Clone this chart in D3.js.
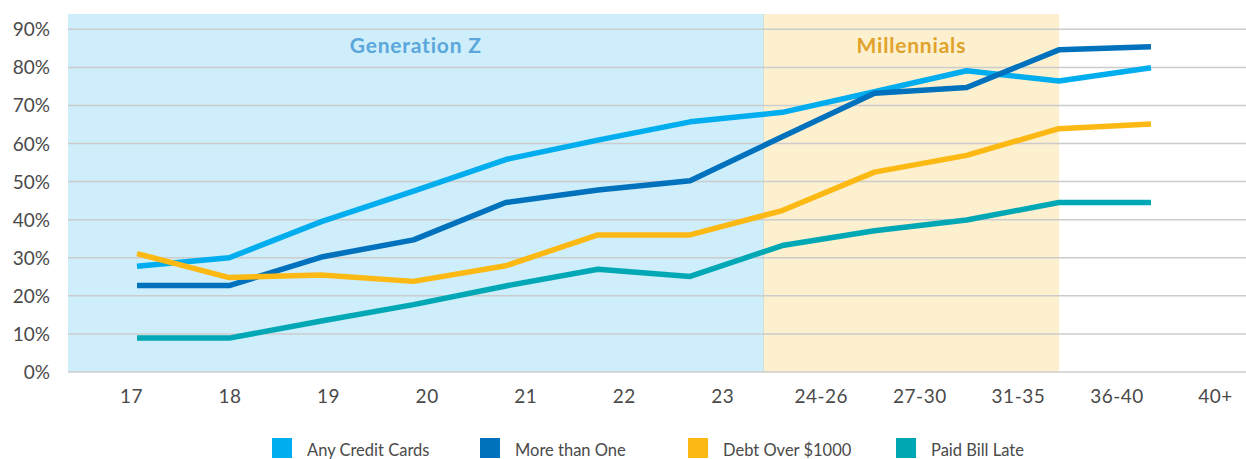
<!DOCTYPE html>
<html>
<head>
<meta charset="utf-8">
<script src="https://cdn.jsdelivr.net/npm/d3@7"></script>
<style>
  body { margin: 0; background: #fff; }
  text { font-family: Lato, "Noto Sans", sans-serif; }
</style>
</head>
<body>
<div id="chart"></div>
<script>
const width = 1246, height = 459;

// categories (age groups)
const ages = ["17", "18", "19", "20", "21", "22", "23", "24-26", "27-30", "31-35", "36-40", "40+"];

// series values in %
const anyCredit = [27.8, 30, 39.5, 47.5, 55.8, 60.9, 65.7, 68.2, 73.6, 79.1, 76.4, 79.9];
const moreThanOne = [22.7, 22.7, 30.2, 34.7, 44.5, 47.8, 50.2, 61.8, 73.2, 74.7, 84.6, 85.4];
const debtOver1000 = [31.1, 24.8, 25.5, 23.8, 27.9, 36, 36, 42.4, 52.5, 56.9, 63.9, 65.1];
const paidLate = [8.9, 8.9, 13.4, 17.7, 22.6, 27, 25.1, 33.2, 37.1, 39.9, 44.5, 44.5];

const seriesNames = ["Any Credit Cards", "More than One", "Debt Over $1000", "Paid Bill Late"];
const seriesColors = ["#00adef", "#0071bc", "#fdb913", "#00a8b5"];

const yTicks = [0, 10, 20, 30, 40, 50, 60, 70, 80, 90];

// generations shading
const genNames = ["Generation Z", "Millennials"];
const genFirst = ["17", "24-26"];
const genLast = ["23", "31-35"];
const genFill = ["#cdeefa", "#fdf0cf"];
const genText = ["#5ba6db", "#e0a22b"];

const margin = {left: 68, top: 14};

let svg = d3.select("#chart")
	.append("svg")
	.attr("width", width)
	.attr("height", height);

let y = d3.scaleLinear().domain([0, 90]).range([372, 29.3]);

// labels and lines don't share exact positions in the original
let xLabel = d3.scalePoint().domain(ages).range([131, 1215]);
let xLine = d3.scalePoint().domain(ages).range([137, 1151]);

function edgeAfter(cat) {
	let i = ages.indexOf(cat);
	return (xLabel(ages[i]) + xLabel(ages[i + 1])) / 2 - 8;
}
function edgeBefore(cat) {
	let i = ages.indexOf(cat);
	if (i == 0) return margin.left;
	return edgeAfter(ages[i - 1]);
}

// BANDS
let bands = svg.append("g");
genNames.forEach((g, i) => {
	let x0 = edgeBefore(genFirst[i]), x1 = edgeAfter(genLast[i]);
	bands.append("rect")
		.attr("x", x0)
		.attr("y", margin.top)
		.attr("width", x1 - x0)
		.attr("height", y(0) - margin.top)
		.style("fill", genFill[i]);
	bands.append("text")
		.attr("x", (x0 + x1) / 2)
		.attr("y", 53)
		.attr("text-anchor", "middle")
		.style("font-size", "21px")
		.style("font-weight", "bold")
		.style("letter-spacing", "0.8px")
		.style("fill", genText[i])
		.text(g);
});
bands.append("line")
	.attr("x1", edgeAfter(genLast[0])).attr("x2", edgeAfter(genLast[0]))
	.attr("y1", margin.top).attr("y2", y(0))
	.style("stroke", "#cfe2d6")
	.style("stroke-width", 1);

// GRID
let grid = svg.append("g");
grid.selectAll("line")
	.data(yTicks)
	.enter()
	.append("line")
	.attr("x1", margin.left)
	.attr("x2", width)
	.attr("y1", d => y(d))
	.attr("y2", d => y(d))
	.style("stroke", "#cccccc")
	.style("stroke-width", 1.5);

// Y AXIS
let yAxis = svg.append("g")
	.attr("transform", "translate(50,0)")
	.call(d3.axisLeft(y).tickValues(yTicks).tickSize(0).tickPadding(0).tickFormat(d => d + "%"));
yAxis.select(".domain").remove();
yAxis.selectAll("text")
	.style("font-size", "19px")
	.style("fill", "#4a4a4a")
	.attr("dy", "0.34em");

// X AXIS
let xAxis = svg.append("g")
	.attr("transform", "translate(0,385)")
	.call(d3.axisBottom(xLabel).tickSize(0).tickPadding(0));
xAxis.select(".domain").remove();
xAxis.selectAll("text")
	.style("font-size", "19px")
	.style("fill", "#4a4a4a")
	.style("letter-spacing", "0.5px")
	.attr("dy", "0.95em");

// LINES
const allSeries = [anyCredit, moreThanOne, debtOver1000, paidLate];
let line = d3.line()
	.x((d, i) => xLine(ages[i]))
	.y(d => y(d));

let lines = svg.append("g");
allSeries.forEach((s, i) => {
	lines.append("path")
		.datum(s)
		.attr("d", line)
		.style("fill", "none")
		.style("stroke", seriesColors[i])
		.style("stroke-width", 5.5)
		.style("stroke-linejoin", "round");
});

// LEGEND
let legend = svg.append("g").attr("transform", "translate(272,438)");
seriesNames.forEach((n, i) => {
	let item = legend.append("g").attr("transform", "translate(" + (i * 208) + ",0)");
	item.append("rect")
		.attr("width", 20)
		.attr("height", 20)
		.style("fill", seriesColors[i]);
	item.append("text")
		.attr("x", 35)
		.attr("y", 18)
		.style("font-size", "16.5px")
		.style("fill", "#4a4a4a")
		.text(n);
});
</script>
</body>
</html>
